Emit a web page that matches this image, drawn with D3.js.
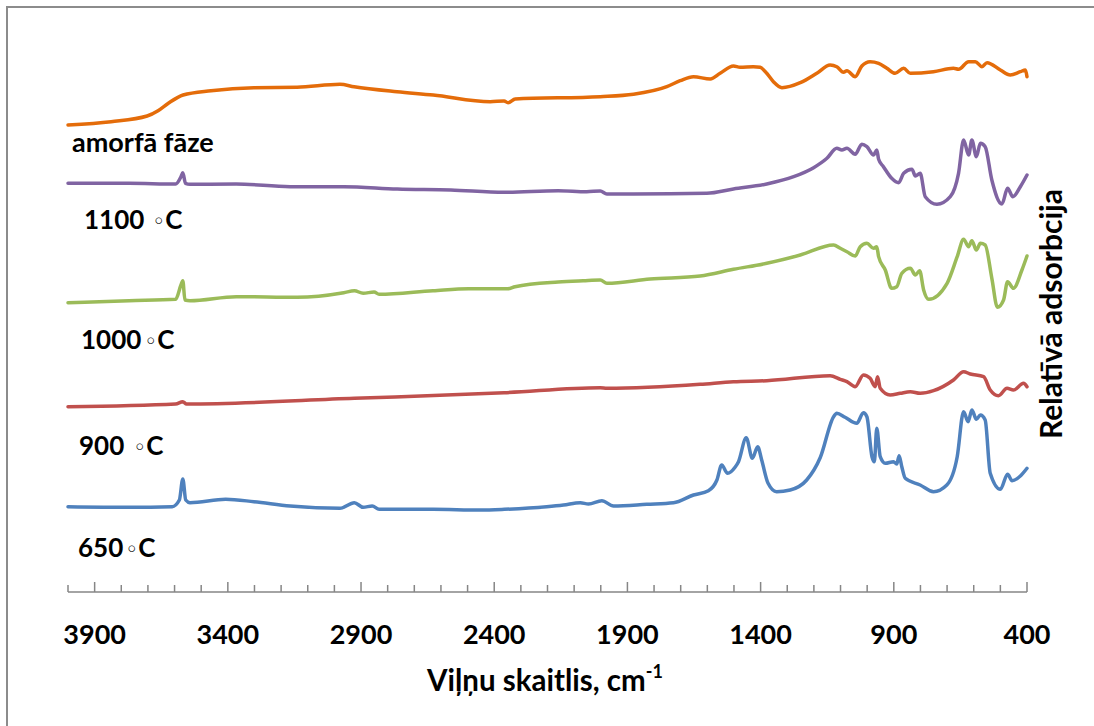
<!DOCTYPE html>
<html>
<head>
<meta charset="utf-8">
<script src="https://cdn.jsdelivr.net/npm/d3@7"></script>
<style>
  html, body { margin: 0; padding: 0; background: #fff; }
  svg { display: block; }
</style>
</head>
<body>
<svg id="chart" width="1094" height="726"></svg>
<script>
// ---- data: [wavenumber cm-1, relative absorption (a.u., offset stacked)] ----
const amorphous = [
  [4000,4.75],[3838,4.783],[3703,4.84],[3662,4.893],[3622,4.97],[3568,5.05],[3463,5.093],
  [3302,5.123],[3140,5.127],[2979,5.157],[2926,5.133],[2765,5.083],[2629,5.05],[2415,4.983],
  [2363,4.99],[2348,4.973],[2321,5.01],[2002,5.033],[1877,5.057],[1752,5.133],[1702,5.193],
  [1652,5.233],[1589,5.21],[1552,5.267],[1502,5.34],[1477,5.327],[1427,5.333],[1402,5.327],
  [1377,5.267],[1352,5.183],[1320,5.123],[1251,5.173],[1189,5.267],[1139,5.35],[1114,5.333],
  [1089,5.277],[1076,5.293],[1045,5.233],[1020,5.34],[989,5.383],[957,5.367],[926,5.317],
  [895,5.267],[863,5.317],[838,5.267],[751,5.283],[676,5.317],[657,5.307],[619,5.383],
  [594,5.383],[569,5.333],[550,5.373],[500,5.30],[463,5.25],[425,5.283],[406,5.30],[400,5.233]
];
const t1100 = [
  [4000,4.167],[3771,4.167],[3596,4.16],[3576,4.233],[3569,4.273],[3559,4.167],[3542,4.157],
  [3369,4.16],[3166,4.133],[2965,4.133],[2764,4.11],[2563,4.10],[2363,4.077],[2160,4.093],
  [2053,4.083],[2002,4.09],[1977,4.06],[1877,4.06],[1602,4.067],[1502,4.11],[1377,4.16],
  [1276,4.233],[1201,4.323],[1151,4.417],[1114,4.517],[1095,4.50],[1076,4.517],[1045,4.457],
  [1020,4.557],[1001,4.533],[976,4.45],[964,4.50],[957,4.407],[939,4.333],[908,4.217],
  [882,4.173],[863,4.267],[832,4.307],[819,4.24],[801,4.267],[782,4.033],[738,3.957],
  [688,4.033],[657,4.267],[638,4.60],[619,4.45],[607,4.60],[590,4.433],[575,4.567],
  [557,4.533],[532,4.20],[494,3.96],[473,4.117],[453,4.033],[425,4.133],[400,4.25]
];
const t1000 = [
  [4000,2.973],[3771,2.993],[3596,3.007],[3576,3.15],[3569,3.193],[3561,3.00],[3542,2.993],
  [3368,3.033],[3140,3.027],[2965,3.073],[2925,3.093],[2892,3.067],[2851,3.08],[2832,3.057],
  [2630,3.093],[2496,3.113],[2348,3.113],[2322,3.133],[2160,3.18],[2066,3.193],[2002,3.20],
  [1977,3.167],[1815,3.21],[1627,3.24],[1502,3.307],[1377,3.367],[1251,3.45],[1126,3.55],
  [1101,3.517],[1076,3.483],[1045,3.44],[1026,3.533],[1001,3.567],[976,3.517],[964,3.533],
  [957,3.433],[932,3.30],[908,3.117],[889,3.133],[870,3.267],[838,3.317],[819,3.25],
  [803,3.293],[788,3.10],[769,3.007],[700,3.167],[662,3.433],[638,3.607],[619,3.533],
  [607,3.593],[590,3.50],[575,3.567],[557,3.55],[532,3.217],[511,2.927],[488,3.00],
  [473,3.183],[451,3.117],[419,3.30],[400,3.44]
];
const t900 = [
  [4000,1.933],[3596,1.96],[3569,1.983],[3555,1.96],[2925,2.017],[2363,2.073],[2002,2.123],
  [1977,2.117],[1627,2.157],[1502,2.183],[1377,2.193],[1139,2.243],[1101,2.207],[1076,2.183],
  [1045,2.133],[1014,2.25],[989,2.217],[970,2.133],[961,2.233],[951,2.117],[914,2.05],
  [876,2.067],[838,2.083],[801,2.067],[751,2.093],[676,2.20],[638,2.283],[613,2.26],
  [563,2.233],[538,2.10],[507,2.043],[475,2.117],[451,2.10],[413,2.167],[400,2.133]
];
const t650 = [
  [4000,0.933],[3771,0.927],[3609,0.933],[3582,1.00],[3569,1.21],[3558,1.00],[3542,0.973],
  [3408,1.007],[3302,0.983],[3166,0.94],[2979,0.917],[2925,0.973],[2892,0.927],[2858,0.94],
  [2832,0.907],[2630,0.907],[2453,0.90],[2362,0.907],[2203,0.933],[2140,0.95],[2077,0.973],
  [2046,0.96],[1996,0.993],[1952,0.94],[1827,0.957],[1727,0.973],[1652,1.05],[1596,1.093],
  [1564,1.20],[1546,1.35],[1524,1.267],[1496,1.327],[1483,1.383],[1454,1.623],[1431,1.417],
  [1411,1.533],[1396,1.40],[1372,1.167],[1340,1.083],[1289,1.10],[1227,1.20],[1176,1.425],
  [1126,1.833],[1114,1.867],[1083,1.827],[1039,1.767],[1014,1.873],[1001,1.833],[982,1.433],
  [973,1.383],[964,1.717],[951,1.433],[932,1.367],[901,1.383],[889,1.36],[880,1.443],
  [870,1.333],[857,1.217],[801,1.15],[751,1.083],[701,1.15],[662,1.433],[638,1.883],
  [621,1.783],[607,1.90],[590,1.807],[575,1.85],[557,1.80],[538,1.267],[500,1.107],
  [473,1.257],[456,1.193],[425,1.24],[400,1.317]
];

const seriesData   = [amorphous, t1100, t1000, t900, t650];
const seriesColors = ["#E46C0A", "#8064A2", "#9BBB59", "#C0504D", "#4F81BD"];
const seriesNames  = ["amorfā fāze", "1100", "1000", "900", "650"];
const tickLabels   = [3900, 3400, 2900, 2400, 1900, 1400, 900, 400];
const xTitle = "Viļņu skaitlis, cm";
const xTitleSup = "-1";
const yTitle = "Relatīvā adsorbcija";

// ---- layout ----
const svg = d3.select("#chart");
const FONT = "Lato, 'Open Sans', 'Liberation Sans', sans-serif";

// outer frame (partially outside the picture)
svg.append("rect")
  .attr("x", 7).attr("y", 7).attr("width", 1200).attr("height", 800)
  .attr("fill", "none").attr("stroke", "#8c8c8c").attr("stroke-width", 2);

const x = d3.scaleLinear().domain([4000, 400]).range([68, 1027]);
const y = d3.scaleLinear().domain([0, 6]).range([600, 0]);
const axisY = 592;

// axis line with inward (upward) ticks
const minorTicks = d3.range(4000, 399, -100);
const g = svg.append("g");
g.append("line")
  .attr("x1", x(4000)).attr("x2", x(400)).attr("y1", axisY).attr("y2", axisY)
  .attr("stroke", "#868686").attr("stroke-width", 1.5);
g.selectAll("line.tick").data(minorTicks).join("line")
  .attr("class", "tick")
  .attr("x1", d => x(d)).attr("x2", d => x(d))
  .attr("y1", axisY)
  .attr("y2", d => (tickLabels.includes(d) ? axisY - 10 : axisY - 7))
  .attr("stroke", "#868686").attr("stroke-width", 1.5);

g.selectAll("text.tl").data(tickLabels).join("text")
  .attr("class", "tl")
  .attr("x", d => x(d)).attr("y", 644)
  .attr("text-anchor", "middle")
  .attr("font-family", FONT).attr("font-weight", "bold").attr("font-size", 27)
  .attr("fill", "#000")
  .text(d => d);

// x-axis title with superscript
const xt = svg.append("text")
  .attr("x", 427).attr("y", 691)
  .attr("font-family", FONT).attr("font-weight", "bold").attr("font-size", 29.5)
  .attr("fill", "#000");
xt.append("tspan").text(xTitle);
xt.append("tspan").attr("font-size", 18).attr("dy", -13).text(xTitleSup);

// right-side y title
svg.append("text")
  .attr("transform", "translate(1062,314) rotate(-90)")
  .attr("text-anchor", "middle")
  .attr("font-family", FONT).attr("font-weight", "bold").attr("font-size", 30)
  .attr("fill", "#000")
  .text(yTitle);

// spectra
const line = d3.line()
  .x(d => x(d[0])).y(d => y(d[1]))
  .curve(d3.curveMonotoneX);

svg.append("g").selectAll("path").data(seriesData).join("path")
  .attr("d", d => line(d))
  .attr("fill", "none")
  .attr("stroke", (d, i) => seriesColors[i])
  .attr("stroke-width", 3.5)
  .attr("stroke-linejoin", "round")
  .attr("stroke-linecap", "round");

// curve labels: number, then a gap, then "◦C" flowing as one run
const labelPos = [
  {x: 72, y: 152, gap: 0},
  {x: 84, y: 229, gap: 8},
  {x: 81, y: 349, gap: 3},
  {x: 79, y: 455, gap: 9},
  {x: 78, y: 557, gap: 2}
];
seriesNames.forEach((name, i) => {
  const p = labelPos[i];
  const t = svg.append("text")
    .attr("x", p.x).attr("y", p.y)
    .attr("font-family", FONT).attr("font-weight", "bold").attr("font-size", i === 0 ? 27 : 26)
    .attr("fill", "#000");
  t.append("tspan").text(name);
  if (i > 0) {
    t.append("tspan").attr("dx", p.gap).attr("font-weight", "normal")
      .attr("font-family", "'DejaVu Sans', sans-serif").attr("font-size", 22).text("◦");
    t.append("tspan").text("C");
  }
});
</script>
</body>
</html>
